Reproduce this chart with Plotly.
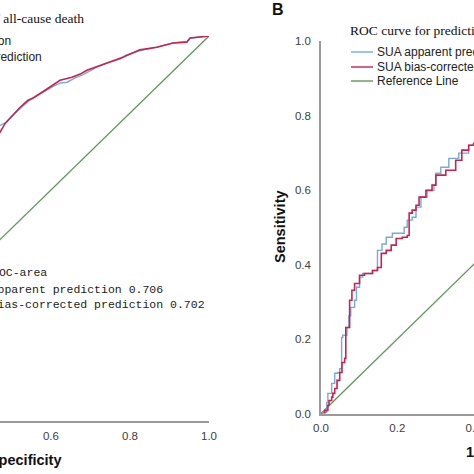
import plotly.graph_objects as go

# ---------------- data ----------------
# Panel A (only right part visible): 1 - specificity vs sensitivity
a_fpr_app = [0.460, 0.471, 0.485, 0.500, 0.517, 0.530, 0.545, 0.565, 0.590, 0.610, 0.625, 0.641,
             0.661, 0.680, 0.700, 0.717, 0.749, 0.775, 0.790, 0.825, 0.868, 0.909, 0.944, 0.952, 1.000]
a_tpr_app = [0.762, 0.768, 0.775, 0.790, 0.807, 0.820, 0.833, 0.845, 0.859, 0.872, 0.878, 0.880,
             0.891, 0.899, 0.910, 0.920, 0.932, 0.940, 0.950, 0.962, 0.971, 0.982, 0.986, 0.994, 1.000]

a_fpr_bc = [0.460, 0.471, 0.484, 0.496, 0.509, 0.522, 0.542, 0.555, 0.585, 0.603, 0.623, 0.653,
            0.674, 0.691, 0.724, 0.749, 0.782, 0.825, 0.868, 0.909, 0.944, 0.952, 0.977, 1.000]
a_tpr_bc = [0.745, 0.750, 0.773, 0.786, 0.802, 0.815, 0.833, 0.839, 0.859, 0.872, 0.885, 0.893,
            0.901, 0.911, 0.924, 0.932, 0.945, 0.964, 0.971, 0.982, 0.984, 0.995, 0.997, 1.000]

# Panel B (only left part visible)
b_fpr_app = [0.000, 0.002, 0.015, 0.015, 0.018, 0.028, 0.028, 0.036, 0.036, 0.044, 0.049, 0.054,
             0.057, 0.068, 0.073, 0.078, 0.088, 0.093, 0.101, 0.109, 0.135, 0.148, 0.148, 0.160,
             0.171, 0.187, 0.218, 0.226, 0.239, 0.249, 0.262, 0.278, 0.296, 0.301, 0.314, 0.335,
             0.361, 0.387, 0.400]
b_tpr_app = [0.000, 0.003, 0.017, 0.030, 0.054, 0.057, 0.081, 0.084, 0.108, 0.110, 0.120, 0.204,
             0.210, 0.231, 0.262, 0.285, 0.304, 0.339, 0.366, 0.376, 0.384, 0.392, 0.438, 0.455,
             0.473, 0.484, 0.500, 0.519, 0.527, 0.554, 0.581, 0.599, 0.613, 0.645, 0.661, 0.685,
             0.699, 0.720, 0.728]

b_fpr_bc = [0.000, 0.002, 0.010, 0.018, 0.021, 0.028, 0.031, 0.036, 0.042, 0.049, 0.055, 0.062,
            0.065, 0.075, 0.075, 0.081, 0.088, 0.101, 0.114, 0.135, 0.148, 0.158, 0.171, 0.184,
            0.197, 0.213, 0.226, 0.231, 0.239, 0.249, 0.257, 0.275, 0.291, 0.301, 0.327, 0.353,
            0.369, 0.387, 0.400]
b_tpr_bc = [0.000, 0.000, 0.008, 0.022, 0.035, 0.044, 0.054, 0.067, 0.089, 0.110, 0.137, 0.148,
            0.231, 0.237, 0.304, 0.331, 0.349, 0.371, 0.376, 0.384, 0.392, 0.430, 0.438, 0.452,
            0.470, 0.473, 0.478, 0.538, 0.546, 0.559, 0.581, 0.599, 0.613, 0.640, 0.653, 0.680,
            0.707, 0.720, 0.726]

ref_x = [0.0, 1.0]
ref_y = [0.0, 1.0]

legend_title = "ROC curve for prediction of all-cause death"
series_names = ["SUA apparent prediction", "SUA bias-corrected prediction", "Reference Line"]
auc_title = "ROC-area"
auc_lines = ["SUA apparent prediction 0.706", "SUA bias-corrected prediction 0.702"]
axis_x_title = "1 - Specificity"
axis_y_title = "Sensitivity"
panel_label = "B"

# ---------------- style ----------------
W = H = 474
BLUE = "#74abd9"
RED = "#c8234f"
GREEN = "#5e9a58"
AXIS = "#9a9a9a"
TICK = "#404040"


def PX(x):
    return x / W


def PY(y):
    return 1 - y / H


fig = go.Figure()

# Panel A traces
fig.add_trace(go.Scatter(x=ref_x, y=ref_y, mode="lines", line=dict(color=GREEN, width=1.3),
                         xaxis="x", yaxis="y", showlegend=False))
fig.add_trace(go.Scatter(x=a_fpr_app, y=a_tpr_app, mode="lines", line=dict(color=BLUE, width=1.4),
                         xaxis="x", yaxis="y", showlegend=False))
fig.add_trace(go.Scatter(x=a_fpr_bc, y=a_tpr_bc, mode="lines", line=dict(color=RED, width=1.6),
                         xaxis="x", yaxis="y", showlegend=False))

# Panel B traces
fig.add_trace(go.Scatter(x=ref_x, y=ref_y, mode="lines", line=dict(color=GREEN, width=1.3),
                         xaxis="x2", yaxis="y2", showlegend=False))
fig.add_trace(go.Scatter(x=b_fpr_app, y=b_tpr_app, mode="lines", line=dict(color=BLUE, width=1.4, shape="hv"),
                         xaxis="x2", yaxis="y2", showlegend=False))
fig.add_trace(go.Scatter(x=b_fpr_bc, y=b_tpr_bc, mode="lines", line=dict(color=RED, width=1.6, shape="hv"),
                         xaxis="x2", yaxis="y2", showlegend=False))

tickfont = dict(family="Arial, Liberation Sans, sans-serif", size=11.5, color=TICK)

fig.update_layout(
    width=W, height=H, autosize=False,
    margin=dict(l=0, r=0, t=0, b=0, autoexpand=False),
    paper_bgcolor="white", plot_bgcolor="white",
    xaxis=dict(domain=[0, PX(209)], range=[0.471, 1.0], tickvals=[0.6, 0.8, 1.0],
               ticktext=["0.6", "0.8", "1.0"], showgrid=False, zeroline=False,
               showline=True, linecolor=AXIS, linewidth=1.5, ticks="", tickfont=tickfont,
               anchor="y", ticklabelstandoff=3, automargin=False, ticklabeloverflow="allow"),
    yaxis=dict(domain=[PY(421), PY(36)], range=[0, 1], visible=False, anchor="x", automargin=False),
    xaxis2=dict(domain=[PX(321), 1.0], range=[0, 0.401], tickvals=[0.0, 0.2, 0.4],
                ticktext=["0.0", "0.2", "0.4"], showgrid=False, zeroline=False,
                showline=True, linecolor=AXIS, linewidth=1.5, ticks="", tickfont=tickfont,
                anchor="y2", ticklabelstandoff=3, automargin=False, ticklabeloverflow="allow"),
    yaxis2=dict(domain=[PY(413.5), PY(41)], range=[0, 1], tickvals=[0, 0.2, 0.4, 0.6, 0.8, 1.0],
                ticktext=["0.0", "0.2", "0.4", "0.6", "0.8", "1.0"], showgrid=False, zeroline=False,
                showline=True, linecolor=AXIS, linewidth=1.5, ticks="", tickfont=tickfont,
                anchor="x2", ticklabelstandoff=6, automargin=False),
)

ann = []
serif = dict(family="Liberation Serif, Times New Roman, serif", size=13.5, color="#111")
sans = dict(family="Arial, Liberation Sans, sans-serif", size=12, color="#222")
mono = dict(family="Liberation Mono, Courier New, monospace", size=11.5, color="#222")
bold = dict(family="Arial, Liberation Sans, sans-serif", size=14.5, color="#111")


def text(t, x, y, font, xanchor="left", angle=0):
    ann.append(dict(text=t, x=PX(x), y=PY(y), xref="paper", yref="paper", showarrow=False,
                    xanchor=xanchor, yanchor="middle", font=font, textangle=angle, borderpad=0))


# Panel A legend (mostly cut off on the left)
text(legend_title, 85, 19, serif, "right")
text(series_names[0], 12, 41, sans, "right")
text(series_names[1], 43, 57, sans, "right")
# Panel A AUC text
text(auc_title, 48, 272, mono, "right")
text(auc_lines[0], 164, 289, mono, "right")
text(auc_lines[1], 206, 304, mono, "right")
# Panel A axis title
text("<b>" + axis_x_title + "</b>", 62, 460, bold, "right")

# Panel B
text("<b>" + panel_label + "</b>", 271, 10, dict(family="Arial, Liberation Sans, sans-serif", size=16, color="#111"))
text(legend_title, 349, 31, serif, "left")
text(series_names[0], 376, 52, sans, "left")
text(series_names[1], 376, 67, sans, "left")
text(series_names[2], 376, 81, sans, "left")
text("<b>" + axis_y_title + "</b>", 280, 227, bold, "center", angle=-90)
text("<b>" + axis_x_title + "</b>", 465, 452, bold, "left")

fig.update_layout(annotations=ann)

shapes = []
for yy, col in [(52, BLUE), (67, RED), (81, GREEN)]:
    shapes.append(dict(type="line", xref="paper", yref="paper", x0=PX(351), x1=PX(373),
                       y0=PY(yy), y1=PY(yy), line=dict(color=col, width=1.4)))
fig.update_layout(shapes=shapes)

fig.write_html("out.html",
               config={"displayModeBar": False},
               post_script="document.body.style.margin='0';document.body.style.overflow='hidden';")
